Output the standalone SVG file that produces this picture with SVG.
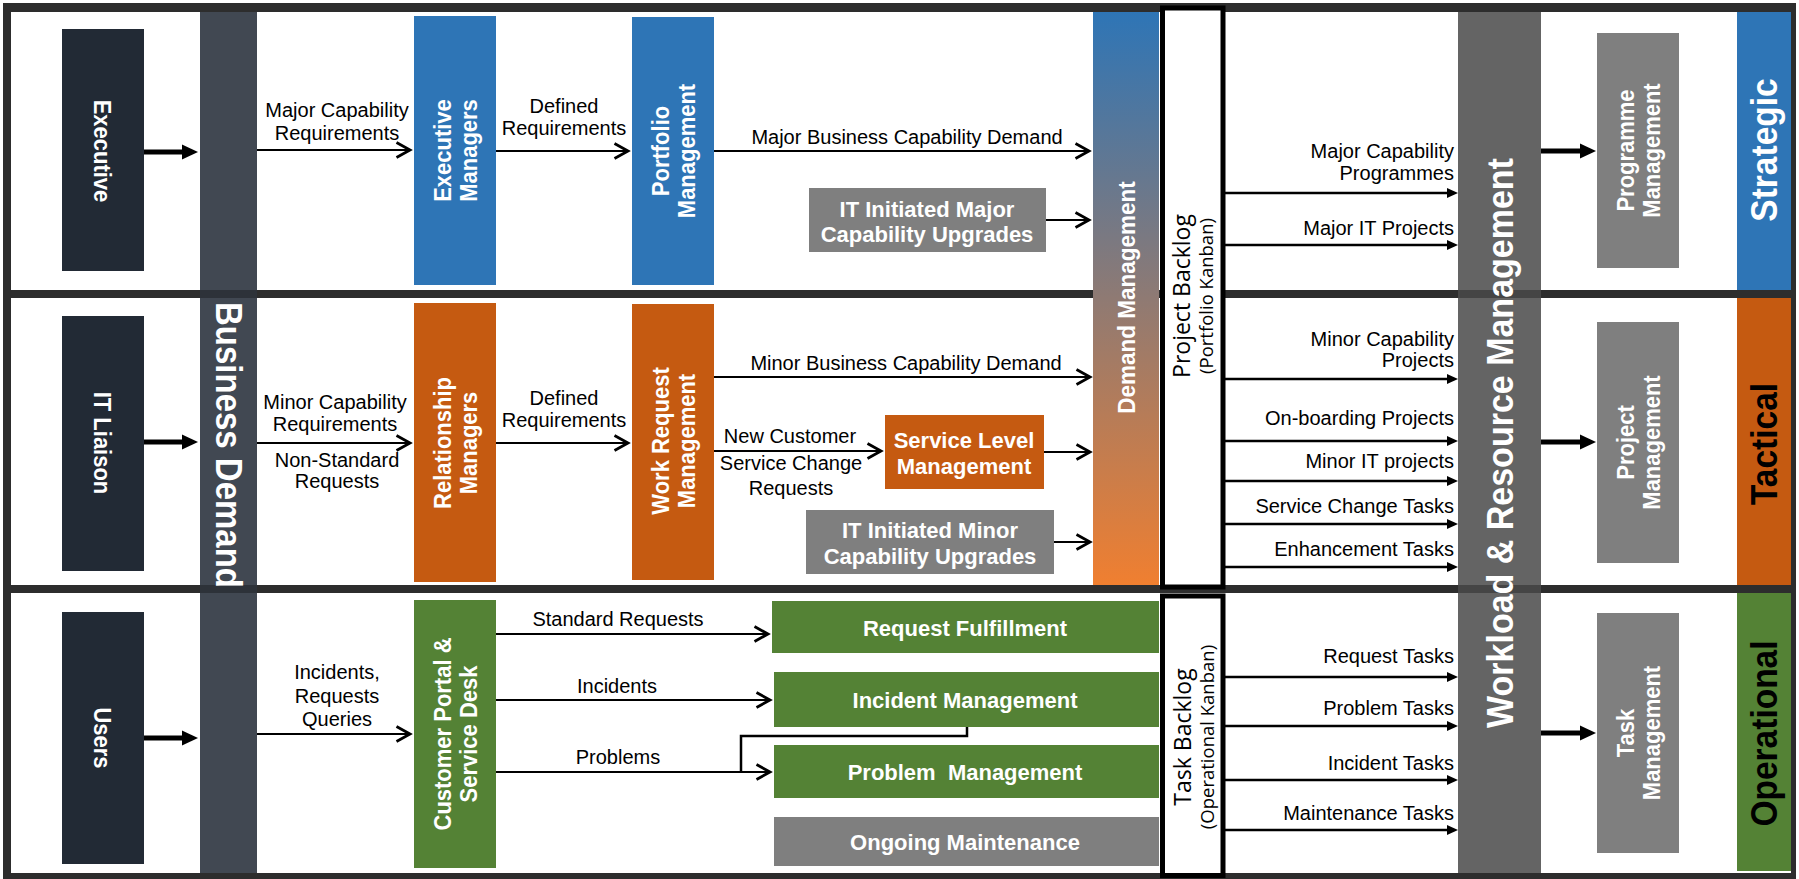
<svg xmlns="http://www.w3.org/2000/svg" width="1799" height="879" viewBox="0 0 1799 879">
<style>
.lb{font-family:"Liberation Sans",Arial,sans-serif;font-size:20px;fill:#000}
.m{text-anchor:middle}
.r{text-anchor:end}
.wt{font-family:"Liberation Sans",Arial,sans-serif;font-weight:bold;font-size:22px;fill:#fff;text-anchor:middle}
.vt{font-family:"Liberation Sans",Arial,sans-serif;font-weight:bold;font-size:22px;fill:#fff;text-anchor:middle}
.big33{font-size:33px}
.dm{font-size:22.5px}
.wl{font-size:34px}
.lane{font-size:33.5px}
.blk{fill:#000}
.bk{font-family:"Open Sans","Noto Sans",sans-serif;fill:#000;text-anchor:middle}
.thin{stroke:#000;stroke-width:2.2;fill:none;marker-end:url(#chev)}
.thick{stroke:#000;stroke-width:5;fill:none;marker-end:url(#big)}
.bl{stroke:#000;stroke-width:2.5;fill:none;marker-end:url(#small)}
.dark{fill:#222a35}
.blue{fill:#2e75b6}
.orange{fill:#c55a11}
.green{fill:#548235}
.gray{fill:#7f7f7f}
.band{fill:#000;opacity:0.3}
</style>
<defs>
<linearGradient id="dmGrad" x1="0" y1="0" x2="0" y2="1">
<stop offset="0" stop-color="#2e75b6"/>
<stop offset="1" stop-color="#f07f30"/>
</linearGradient>
<marker id="chev" markerUnits="userSpaceOnUse" markerWidth="20" markerHeight="20" refX="15" refY="8" orient="auto" overflow="visible">
<path d="M1.5,0.5 L15,8 L1.5,15.5" fill="none" stroke="#000" stroke-width="2.8"/>
</marker>
<marker id="big" markerUnits="userSpaceOnUse" markerWidth="20" markerHeight="20" refX="6" refY="8" orient="auto" overflow="visible">
<path d="M0,0.5 L16,8 L0,15.5 z" fill="#000"/>
</marker>
<marker id="small" markerUnits="userSpaceOnUse" markerWidth="14" markerHeight="14" refX="5" refY="5.5" orient="auto" overflow="visible">
<path d="M0,0.5 L11,5.5 L0,10.5 z" fill="#000"/>
</marker>
</defs>

<g id="frame">
<rect x="3" y="3" width="1793" height="876" fill="#2d2d2d"/>
<rect x="11" y="12" width="1780" height="278" fill="#fff"/>
<rect x="11" y="298" width="1780" height="287" fill="#fff"/>
<rect x="11" y="593" width="1780" height="280" fill="#fff"/>
</g>

<g id="business-demand">
<rect x="200" y="12" width="57" height="861" fill="#414852"/>
<rect class="band" x="200" y="290" width="57" height="8"/>
<rect class="band" x="200" y="585" width="57" height="8"/>
<text class="vt big33" transform="translate(229,445) rotate(90) scale(1,1.1)" y="11.8">Business Demand</text>
</g>

<g id="demand-management">
<rect x="1093" y="12" width="66" height="573" fill="url(#dmGrad)"/>
<text class="vt dm" transform="translate(1126.5,297.5) rotate(-90) scale(1,1.1)" y="8">Demand Management</text>
</g>

<g id="workload">
<rect x="1458" y="12" width="83" height="861" fill="#646464"/>
<rect class="band" x="1458" y="290" width="83" height="8"/>
<rect class="band" x="1458" y="585" width="83" height="8"/>
<text class="vt wl" transform="translate(1499.5,443) rotate(-90) scale(1,1.1)" y="12.2">Workload &amp; Resource Management</text>
</g>

<g id="executive">
<rect class="dark" x="62" y="29" width="82" height="242"/>
<text class="vt" transform="translate(103,151) rotate(90) scale(1,1.1)" y="7.9">Executive</text>
</g>
<g id="it-liaison">
<rect class="dark" x="62" y="316" width="82" height="255"/>
<text class="vt" transform="translate(103,443) rotate(90) scale(1,1.1)" y="7.9">IT Liaison</text>
</g>
<g id="users">
<rect class="dark" x="62" y="612" width="82" height="252"/>
<text class="vt" transform="translate(103,738) rotate(90) scale(1,1.1)" y="7.9">Users</text>
</g>

<g id="executive-managers">
<rect class="blue" x="414" y="16" width="82" height="269"/>
<text class="vt" transform="translate(455,150.5) rotate(-90) scale(1,1.1)"><tspan x="0" y="-3.9">Executive</tspan><tspan x="0" y="19.6">Managers</tspan></text>
</g>
<g id="portfolio-management">
<rect class="blue" x="632" y="17" width="82" height="268"/>
<text class="vt" transform="translate(673,151) rotate(-90) scale(1,1.1)"><tspan x="0" y="-3.9">Portfolio</tspan><tspan x="0" y="19.6">Management</tspan></text>
</g>
<g id="relationship-managers">
<rect class="orange" x="414" y="303" width="82" height="279"/>
<text class="vt" transform="translate(455,443) rotate(-90) scale(1,1.1)"><tspan x="0" y="-3.9">Relationship</tspan><tspan x="0" y="19.6">Managers</tspan></text>
</g>
<g id="work-request-management">
<rect class="orange" x="632" y="304" width="82" height="276"/>
<text class="vt" transform="translate(673,441) rotate(-90) scale(1,1.1)"><tspan x="0" y="-3.9">Work Request</tspan><tspan x="0" y="19.6">Management</tspan></text>
</g>
<g id="customer-portal">
<rect class="green" x="414" y="600" width="82" height="268"/>
<text class="vt" transform="translate(455,734) rotate(-90) scale(1,1.1)"><tspan x="0" y="-3.9">Customer Portal &amp;</tspan><tspan x="0" y="19.6">Service Desk</tspan></text>
</g>

<g id="it-major">
<rect class="gray" x="809" y="188" width="237" height="64"/>
<text class="wt"><tspan x="927" y="216.5">IT Initiated Major</tspan><tspan x="927" y="242">Capability Upgrades</tspan></text>
</g>
<g id="service-level">
<rect class="orange" x="885" y="415" width="159" height="74"/>
<text class="wt"><tspan x="964" y="448">Service Level</tspan><tspan x="964" y="474">Management</tspan></text>
</g>
<g id="it-minor">
<rect class="gray" x="806" y="510" width="248" height="64"/>
<text class="wt"><tspan x="930" y="538">IT Initiated Minor</tspan><tspan x="930" y="564">Capability Upgrades</tspan></text>
</g>
<g id="request-fulfillment">
<rect class="green" x="772" y="601" width="387" height="52"/>
<text class="wt" x="965" y="636">Request Fulfillment</text>
</g>
<g id="incident-management">
<rect class="green" x="774" y="672" width="385" height="55"/>
<text class="wt" x="965" y="708">Incident Management</text>
</g>
<g id="problem-management">
<rect class="green" x="774" y="745" width="385" height="53"/>
<text class="wt" x="965" y="780" xml:space="preserve">Problem  Management</text>
</g>
<g id="ongoing-maintenance">
<rect class="gray" x="774" y="817" width="385" height="49"/>
<text class="wt" x="965" y="850">Ongoing Maintenance</text>
</g>

<g id="project-backlog">
<rect x="1162.5" y="8" width="60.5" height="579" fill="#fff" stroke="#000" stroke-width="5"/>
<text class="bk" transform="translate(1190,296) rotate(-90)"><tspan x="0" y="0" font-size="23">Project Backlog</tspan><tspan x="0" y="23" font-size="18.5">(Portfolio Kanban)</tspan></text>
</g>
<g id="task-backlog">
<rect x="1162.5" y="596" width="60.5" height="279.5" fill="#fff" stroke="#000" stroke-width="5"/>
<text class="bk" transform="translate(1191,737) rotate(-90)"><tspan x="0" y="0" font-size="23">Task Backlog</tspan><tspan x="0" y="23" font-size="18.5">(Operational Kanban)</tspan></text>
</g>

<g id="programme-management">
<rect class="gray" x="1597" y="33" width="82" height="235"/>
<text class="vt" transform="translate(1638,150.5) rotate(-90) scale(1,1.1)"><tspan x="0" y="-3.9">Programme</tspan><tspan x="0" y="19.6">Management</tspan></text>
</g>
<g id="project-management">
<rect class="gray" x="1597" y="322" width="82" height="241"/>
<text class="vt" transform="translate(1638,442.5) rotate(-90) scale(1,1.1)"><tspan x="0" y="-3.9">Project</tspan><tspan x="0" y="19.6">Management</tspan></text>
</g>
<g id="task-management">
<rect class="gray" x="1597" y="613" width="82" height="240"/>
<text class="vt" transform="translate(1638,733) rotate(-90) scale(1,1.1)"><tspan x="0" y="-3.9">Task</tspan><tspan x="0" y="19.6">Management</tspan></text>
</g>

<g id="strategic">
<rect class="blue" x="1737" y="12" width="54" height="278"/>
<text class="vt lane" transform="translate(1764,150) rotate(-90) scale(1,1.1)" y="12">Strategic</text>
</g>
<g id="tactical">
<rect class="orange" x="1737" y="298" width="54" height="287"/>
<text class="vt lane blk" transform="translate(1764,444) rotate(-90) scale(1,1.1)" y="12">Tactical</text>
</g>
<g id="operational">
<rect class="green" x="1737" y="593" width="54" height="278"/>
<text class="vt lane blk" transform="translate(1764,733.5) rotate(-90) scale(1,1.1)" y="12">Operational</text>
</g>

<g id="connectors">
<line class="thick" x1="144" y1="152" x2="188" y2="152"/>
<line class="thick" x1="144" y1="442" x2="188" y2="442"/>
<line class="thick" x1="144" y1="738" x2="188" y2="738"/>
<line class="thick" x1="1541" y1="151" x2="1586" y2="151"/>
<line class="thick" x1="1541" y1="442" x2="1586" y2="442"/>
<line class="thick" x1="1541" y1="733" x2="1586" y2="733"/>

<line class="thin" x1="257" y1="150" x2="410" y2="150"/>
<line class="thin" x1="496" y1="151" x2="628" y2="151"/>
<line class="thin" x1="714" y1="151" x2="1089" y2="151"/>
<line class="thin" x1="1046" y1="220" x2="1089" y2="220"/>
<line class="thin" x1="257" y1="443" x2="410" y2="443"/>
<line class="thin" x1="496" y1="443" x2="628" y2="443"/>
<line class="thin" x1="714" y1="377" x2="1090" y2="377"/>
<line class="thin" x1="714" y1="451" x2="881" y2="451"/>
<line class="thin" x1="1044" y1="452" x2="1090" y2="452"/>
<line class="thin" x1="1054" y1="542" x2="1090" y2="542"/>
<line class="thin" x1="257" y1="734" x2="410" y2="734"/>
<line class="thin" x1="496" y1="634" x2="768" y2="634"/>
<line class="thin" x1="496" y1="700" x2="770" y2="700"/>
<line class="thin" x1="496" y1="772" x2="770" y2="772"/>
<polyline points="967,727 967,736 741,736 741,772" fill="none" stroke="#000" stroke-width="2.5"/>

<line class="bl" x1="1225" y1="193" x2="1452" y2="193"/>
<line class="bl" x1="1225" y1="245" x2="1452" y2="245"/>
<line class="bl" x1="1225" y1="379" x2="1452" y2="379"/>
<line class="bl" x1="1225" y1="441" x2="1452" y2="441"/>
<line class="bl" x1="1225" y1="481" x2="1452" y2="481"/>
<line class="bl" x1="1225" y1="524" x2="1452" y2="524"/>
<line class="bl" x1="1225" y1="567" x2="1452" y2="567"/>
<line class="bl" x1="1225" y1="677" x2="1452" y2="677"/>
<line class="bl" x1="1225" y1="726" x2="1452" y2="726"/>
<line class="bl" x1="1225" y1="780" x2="1452" y2="780"/>
<line class="bl" x1="1225" y1="830" x2="1452" y2="830"/>

<text class="lb m"><tspan x="337" y="117">Major Capability</tspan><tspan x="337" y="140">Requirements</tspan></text>
<text class="lb m"><tspan x="564" y="113">Defined</tspan><tspan x="564" y="135">Requirements</tspan></text>
<text class="lb m" x="907" y="144">Major Business Capability Demand</text>
<text class="lb m"><tspan x="335" y="409">Minor Capability</tspan><tspan x="335" y="431">Requirements</tspan></text>
<text class="lb m"><tspan x="337" y="467">Non-Standard</tspan><tspan x="337" y="488">Requests</tspan></text>
<text class="lb m"><tspan x="564" y="405">Defined</tspan><tspan x="564" y="427">Requirements</tspan></text>
<text class="lb m" x="906" y="370">Minor Business Capability Demand</text>
<text class="lb m" x="790" y="443">New Customer</text>
<text class="lb m"><tspan x="791" y="470">Service Change</tspan><tspan x="791" y="495">Requests</tspan></text>
<text class="lb m"><tspan x="337" y="679">Incidents,</tspan><tspan x="337" y="703">Requests</tspan><tspan x="337" y="726">Queries</tspan></text>
<text class="lb m" x="618" y="626">Standard Requests</text>
<text class="lb m" x="617" y="693">Incidents</text>
<text class="lb m" x="618" y="764">Problems</text>

<text class="lb r"><tspan x="1454" y="158">Major Capability</tspan><tspan x="1454" y="180">Programmes</tspan></text>
<text class="lb r" x="1454" y="235">Major IT Projects</text>
<text class="lb r"><tspan x="1454" y="346">Minor Capability</tspan><tspan x="1454" y="367">Projects</tspan></text>
<text class="lb r" x="1454" y="425">On-boarding Projects</text>
<text class="lb r" x="1454" y="468">Minor IT projects</text>
<text class="lb r" x="1454" y="513">Service Change Tasks</text>
<text class="lb r" x="1454" y="556">Enhancement Tasks</text>
<text class="lb r" x="1454" y="663">Request Tasks</text>
<text class="lb r" x="1454" y="715">Problem Tasks</text>
<text class="lb r" x="1454" y="770">Incident Tasks</text>
<text class="lb r" x="1454" y="820">Maintenance Tasks</text>
</g>
</svg>
